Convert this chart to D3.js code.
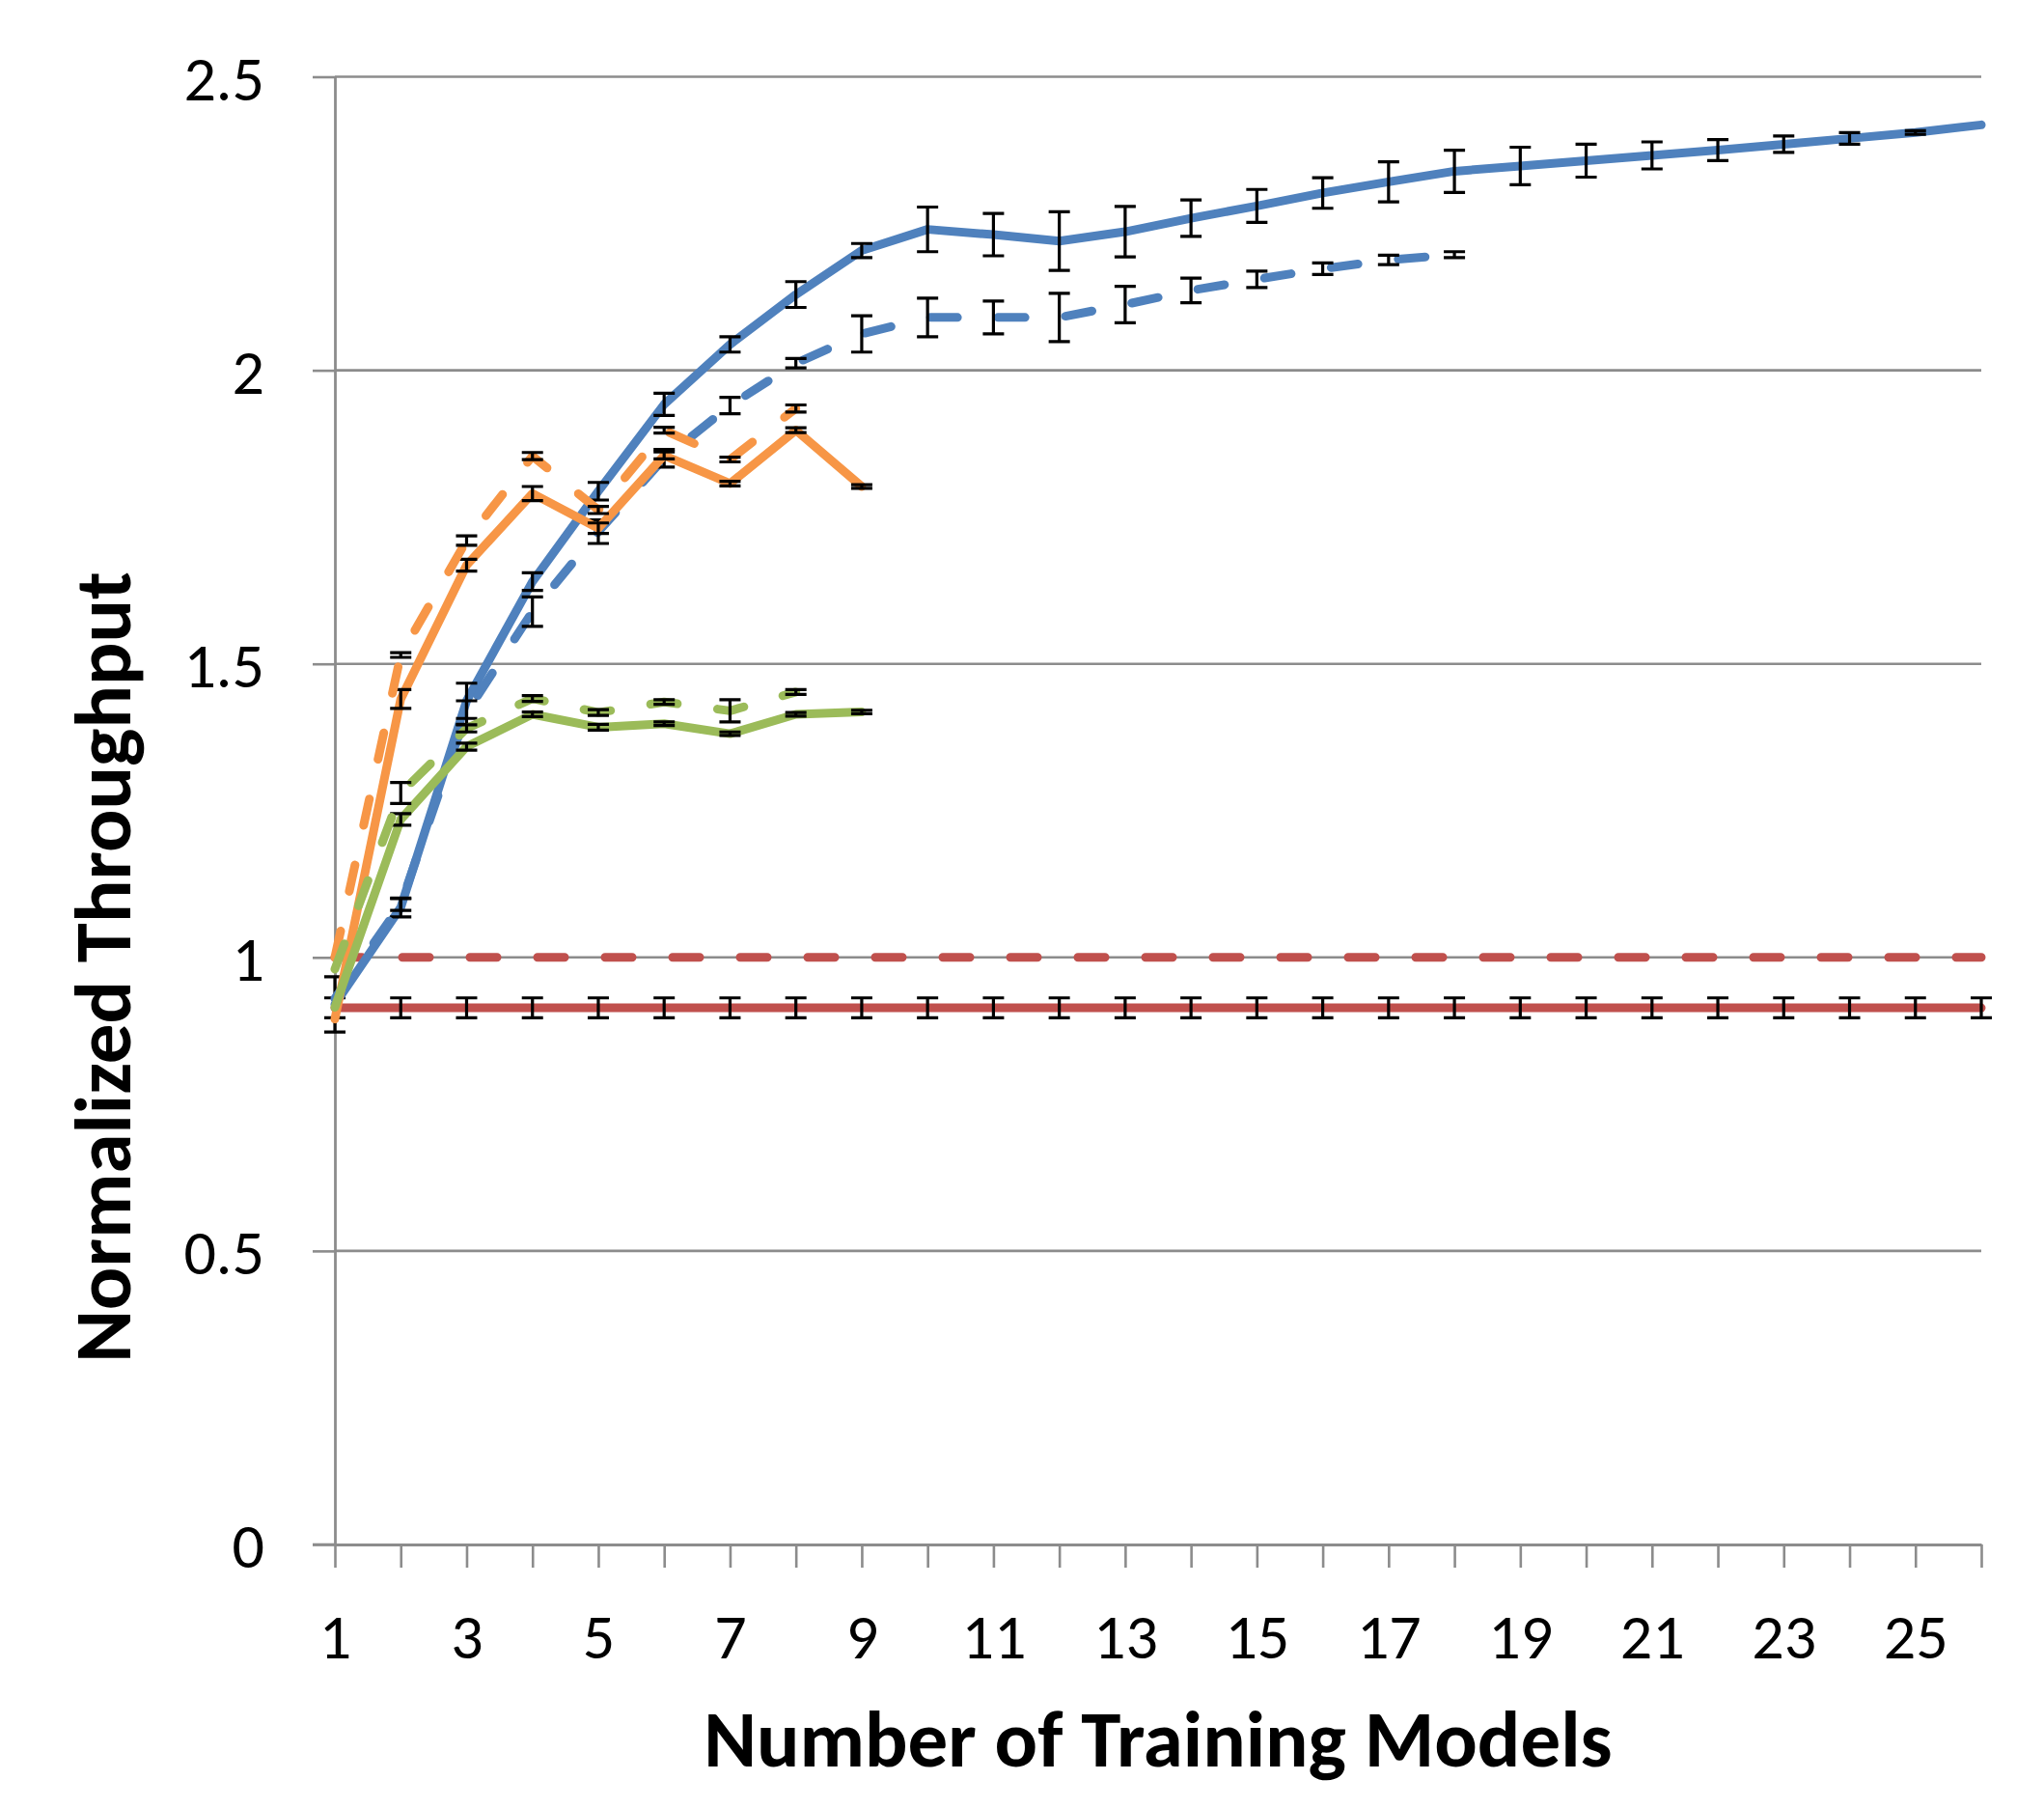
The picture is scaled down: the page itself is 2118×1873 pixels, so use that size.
<!DOCTYPE html>
<html>
<head>
<meta charset="utf-8">
<script src="https://cdn.jsdelivr.net/npm/d3@7/dist/d3.min.js"></script>
<style>
  html, body { margin: 0; padding: 0; background: #ffffff; }
  svg { display: block; }
  .lbl { font-family: Carlito, Calibri, Lato, "Liberation Sans", sans-serif; fill: #000; }
</style>
</head>
<body>
<svg id="chart" width="2118" height="1873"></svg>
<script>
// ---------------- data ----------------
const xValues = d3.range(1, 27);                       // 1..26
const yTickValues = [0, 0.5, 1, 1.5, 2, 2.5];
const yTickLabels = ["0", "0.5", "1", "1.5", "2", "2.5"];
const xTickLabelValues = [1, 3, 5, 7, 9, 11, 13, 15, 17, 19, 21, 23, 25];

const blueSolid = [0.92, 1.085, 1.437, 1.64, 1.794, 1.942, 2.044, 2.129, 2.204, 2.24, 2.231, 2.22, 2.236,
                   2.259, 2.28, 2.302, 2.321, 2.339, 2.348, 2.357, 2.366, 2.375, 2.385, 2.395, 2.405, 2.418];
const blueSolidErr = [0.047, 0.016, 0.03, 0.015, 0.015, 0.019, 0.013, 0.022, 0.012, 0.038, 0.036, 0.05, 0.043,
                      0.031, 0.028, 0.026, 0.034, 0.036, 0.032, 0.028, 0.023, 0.018, 0.014, 0.01, 0.003, 0];

const blueDashed = [0.93, 1.09, 1.417, 1.589, 1.725, 1.85, 1.94, 2.012, 2.062, 2.09, 2.09, 2.09, 2.112,
                    2.136, 2.155, 2.173, 2.188, 2.197];
const blueDashedErr = [0, 0.01, 0.02, 0.025, 0.02, 0.015, 0.014, 0.008, 0.031, 0.033, 0.028, 0.041, 0.031,
                       0.021, 0.014, 0.01, 0.008, 0.005];

const orangeSolid = [0.895, 1.44, 1.668, 1.79, 1.731, 1.855, 1.807, 1.898, 1.802];
const orangeSolidErr = [0, 0.016, 0.01, 0.012, 0.009, 0.006, 0.004, 0.004, 0.003];

const orangeDashed = [1.0, 1.515, 1.71, 1.854, 1.762, 1.898, 1.848, 1.935];
const orangeDashedErr = [0, 0.004, 0.008, 0.006, 0.006, 0.005, 0.004, 0.006];

const greenSolid = [0.915, 1.235, 1.359, 1.414, 1.392, 1.398, 1.381, 1.414, 1.418];
const greenSolidErr = [0, 0.01, 0.006, 0.004, 0.005, 0.003, 0.003, 0.003, 0.003];

const greenDashed = [0.98, 1.28, 1.39, 1.441, 1.417, 1.435, 1.42, 1.452];
const greenDashedErr = [0, 0.018, 0.006, 0.005, 0.005, 0.004, 0.019, 0.004];

const redSolid = xValues.map(() => 0.914);
const redSolidErr = xValues.map(() => 0.017);
const redDashed = xValues.map(() => 1.0);

const xTitle = "Number of Training Models";
const yTitle = "Normalized Throughput";

// ---------------- layout ----------------
const svg = d3.select("#chart");
const plotLeft = 347, plotRight = 2053, plotTop = 79.5, plotBottom = 1600;
const x = d3.scaleLinear().domain([1, 26]).range([plotLeft, plotRight]);
const y = d3.scaleLinear().domain([0, 2.5]).range([plotBottom, plotTop]);

const gridColor = "#8c8c8c";
const tickFont = 66;
const titleFont = 83;

// gridlines
svg.append("g").selectAll("line").data(yTickValues.filter(v => v > 0)).join("line")
  .attr("x1", plotLeft).attr("x2", plotRight)
  .attr("y1", d => y(d)).attr("y2", d => y(d))
  .attr("stroke", gridColor).attr("stroke-width", 2.6);

// y axis
const yAxis = d3.axisLeft(y).tickValues(yTickValues).tickSize(23).tickSizeOuter(0)
  .tickFormat((d, i) => yTickLabels[i]);
const gy = svg.append("g").attr("transform", `translate(${plotLeft},0)`).call(yAxis);
gy.select(".domain").attr("stroke", gridColor).attr("stroke-width", 2.8);
gy.selectAll(".tick line").attr("stroke", gridColor).attr("stroke-width", 2.6);
gy.selectAll(".tick text").attr("class", "lbl").attr("x", -73).attr("dy", "0.36em")
  .style("font-size", tickFont + "px");

// x axis
const xAxis = d3.axisBottom(x).tickValues(xValues).tickSize(24).tickSizeOuter(0)
  .tickFormat(d => xTickLabelValues.includes(d) ? String(d) : "");
const gx = svg.append("g").attr("transform", `translate(0,${plotBottom})`).call(xAxis);
gx.select(".domain").attr("stroke", gridColor).attr("stroke-width", 2.8);
gx.selectAll(".tick line").attr("stroke", gridColor).attr("stroke-width", 2.6);
gx.selectAll(".tick text").attr("class", "lbl").attr("y", 118).attr("dy", null)
  .style("font-size", tickFont + "px");
gx.attr("font-family", null).attr("font-size", null);
gy.attr("font-family", null).attr("font-size", null);

// extend x-axis line to the left like the y ticks
svg.append("line").attr("x1", plotLeft - 23).attr("x2", plotLeft)
  .attr("y1", plotBottom).attr("y2", plotBottom)
  .attr("stroke", gridColor).attr("stroke-width", 2.6);

// titles
svg.append("text").attr("class", "lbl")
  .attr("x", (plotLeft + plotRight) / 2).attr("y", 1830)
  .attr("text-anchor", "middle")
  .style("font-size", titleFont + "px").style("font-weight", "bold")
  .text(xTitle);

svg.append("text").attr("class", "lbl")
  .attr("transform", "translate(135,1002) rotate(-90)")
  .attr("text-anchor", "middle")
  .style("font-size", titleFont + "px").style("font-weight", "bold")
  .text(yTitle);

// ---------------- series ----------------
const series = [
  { vals: redSolid,     err: redSolidErr, color: "#C0504D", dashed: false },
  { vals: redDashed,    err: null,        color: "#C0504D", dashed: true },
  { vals: blueSolid,    err: blueSolidErr, color: "#4F81BD", dashed: false },
  { vals: blueDashed,   err: blueDashedErr, color: "#4F81BD", dashed: true },
  { vals: orangeSolid,  err: orangeSolidErr, color: "#F79646", dashed: false },
  { vals: orangeDashed, err: orangeDashedErr, color: "#F79646", dashed: true },
  { vals: greenSolid,   err: greenSolidErr, color: "#9BBB59", dashed: false },
  { vals: greenDashed,  err: greenDashedErr, color: "#9BBB59", dashed: true }
];

const line = d3.line().x((d, i) => x(xValues[i])).y(d => y(d));
const capHalf = 11;

series.forEach(s => {
  const g = svg.append("g");
  g.append("path").datum(s.vals)
    .attr("d", line)
    .attr("fill", "none")
    .attr("stroke", s.color)
    .attr("stroke-width", 9)
    .attr("stroke-linejoin", "round")
    .attr("stroke-linecap", "round")
    .attr("stroke-dasharray", s.dashed ? "28 42" : null);
  if (s.err) {
    const pts = s.vals.map((v, i) => ({ xv: xValues[i], v, e: s.err[i] })).filter(p => p.e > 0);
    const eb = g.append("g").attr("stroke", "#000").attr("stroke-width", 3.2).attr("fill", "none");
    eb.selectAll("path").data(pts).join("path")
      .attr("d", p => {
        const cx = x(p.xv), y1 = y(p.v + p.e), y2 = y(p.v - p.e);
        return `M${cx - capHalf},${y1}H${cx + capHalf}M${cx},${y1}V${y2}M${cx - capHalf},${y2}H${cx + capHalf}`;
      });
  }
});
</script>
</body>
</html>
